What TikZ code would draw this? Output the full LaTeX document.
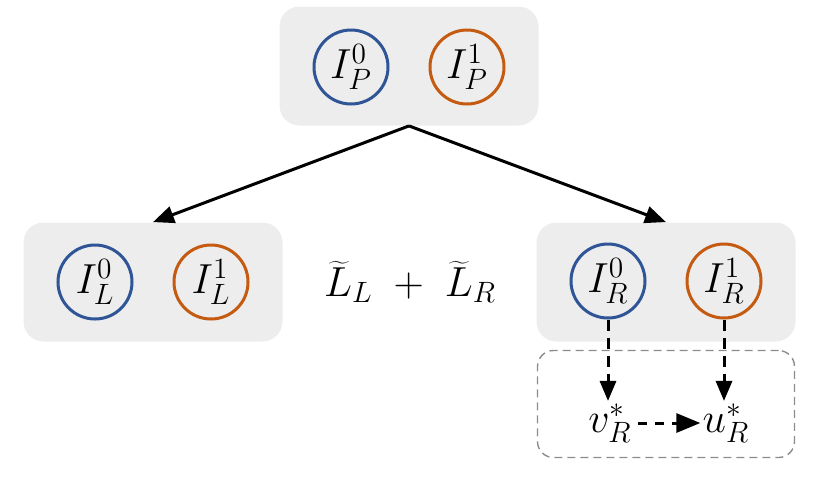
\RequirePackage{fix-cm}
\documentclass[tikz,border=0pt]{standalone}
\usepackage{tikz}
\usetikzlibrary{positioning,arrows.meta}
\definecolor{boxgray}{RGB}{237,237,237}
\definecolor{blueline}{RGB}{47,85,151}
\definecolor{orangeline}{RGB}{197,90,17}
\definecolor{dashgray}{RGB}{140,140,140}

\begin{document}
\begin{tikzpicture}[node distance=58pt,
    groupbox/.style={rectangle, rounded corners=10pt, fill=boxgray, minimum width=129.5pt, minimum height=59.5pt},
    zero/.style={circle, draw=blueline, line width=1.5pt, minimum size=37pt, inner sep=0pt, font=\fontsize{21}{25}\selectfont},
    one/.style={circle, draw=orangeline, line width=1.5pt, minimum size=37pt, inner sep=0pt, font=\fontsize{21}{25}\selectfont},
    star/.style={rectangle, inner sep=1pt, font=\fontsize{21}{25}\selectfont},
    pil/.style={-{Triangle[length=10.5pt,width=8.5pt]}, line width=1.5pt},
    streckpil/.style={-{Triangle[length=10pt,width=8pt]}, line width=1.5pt, dash pattern=on 5.5pt off 3.5pt}]
    \useasboundingbox (0,0) rectangle (415pt,-242pt);
    % Boxar
    \node (top) [groupbox] at (204.5pt,-33pt) {};
    \node (left) [groupbox, below of=top, xshift=-128pt, yshift=-50pt] {};
    \node (right) [groupbox, below of=top, xshift=128.5pt, yshift=-50pt] {};
    \node (opt) [rectangle, draw=dashgray, dash pattern=on 4pt off 2.5pt, line width=0.7pt, rounded corners=8pt, minimum width=128.5pt, minimum height=53.5pt, below of=right, yshift=-3pt] {};
    % Cirklar
    \node (P0) [zero, left of=top, xshift=29pt, yshift=-0.5pt] {$I_P^0$};
    \node (P1) [one, right of=P0] {$I_P^1$};
    \node (L0) [zero, left of=left, xshift=29pt] {$I_L^0$};
    \node (L1) [one, right of=L0] {$I_L^1$};
    \node (R0) [zero, left of=right, xshift=29pt, yshift=0.5pt] {$I_R^0$};
    \node (R1) [one, right of=R0] {$I_R^1$};
    \node (sum) [star, below of=top, xshift=0.5pt, yshift=-50pt] {$\widetilde{L}_L \;+\; \widetilde{L}_R$};
    \node (v) [star, below of=R0, xshift=1pt, yshift=-13pt] {$v_R^*$};
    \node (u) [star, right of=v] {$u_R^*$};
    % Pilar
    \draw [pil] (top.south) -- (left.north);
    \draw [pil] (top.south) -- (right.north);
    \draw [streckpil] (R0.south) -- (R0.south |- v.north);
    \draw [streckpil] (R1.south) -- (R1.south |- u.north);
    \draw [streckpil, -{Triangle[length=12pt,width=9.5pt]}, dash pattern=on 4.5pt off 4pt] ([xshift=2pt]v.east) -- (u.west);
\end{tikzpicture}
\end{document}
